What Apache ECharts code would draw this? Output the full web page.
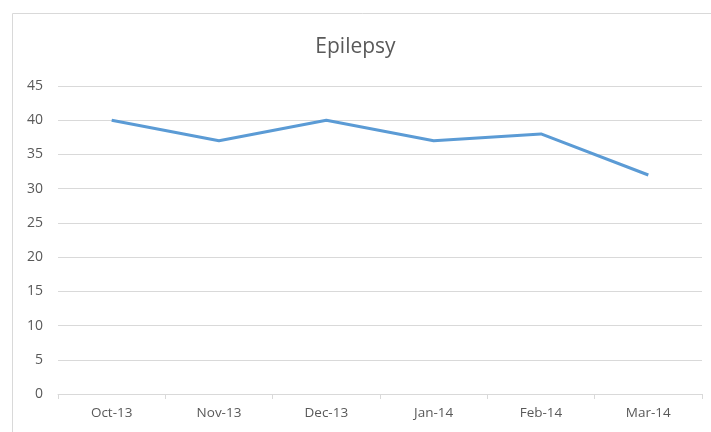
<!DOCTYPE html>
<html>
<head>
    <meta charset="utf-8">
    <title>Epilepsy</title>
    <script src="https://cdn.jsdelivr.net/npm/echarts@6/dist/echarts.min.js"></script>
    <style>
        html, body { margin: 0; padding: 0; background: #fff; }
        #chart { width: 711px; height: 432px; }
    </style>
</head>
<body>
<div id="chart"></div>
<script type="text/javascript">
    var months = ['Oct-13', 'Nov-13', 'Dec-13', 'Jan-14', 'Feb-14', 'Mar-14'];
    var epilepsy = [40, 37, 40, 37, 38, 32];

    var myChart = echarts.init(document.getElementById('chart'));
    myChart.setOption({
        animation: false,
        textStyle: { fontFamily: 'Open Sans' },
        // outer chart border
        graphic: [{
            type: 'rect',
            shape: { x: 12.5, y: 13.5, width: 720, height: 440 },
            style: { fill: 'none', stroke: '#d9d9d9', lineWidth: 1 }
        }],
        title: {
            text: 'Epilepsy',
            left: 'center',
            top: 32,
            textStyle: { fontSize: 21, fontWeight: 'normal', color: '#595959', fontFamily: 'Open Sans' }
        },
        grid: { left: 58, right: 9, top: 86, bottom: 38 },
        xAxis: {
            type: 'category',
            data: months,
            boundaryGap: true,
            axisLine: { lineStyle: { color: '#d9d9d9' } },
            axisTick: { show: true, length: 5, lineStyle: { color: '#d9d9d9' } },
            axisLabel: { color: '#595959', fontSize: 13.5, margin: 12 }
        },
        yAxis: {
            type: 'value',
            min: 0,
            max: 45,
            interval: 5,
            axisLine: { show: false },
            axisTick: { show: false },
            axisLabel: { color: '#595959', fontSize: 14, margin: 15 },
            splitLine: { lineStyle: { color: '#d9d9d9' } }
        },
        series: [{
            name: 'Epilepsy',
            type: 'line',
            data: epilepsy,
            symbol: 'none',
            lineStyle: { color: '#5b9bd5', width: 3 },
            itemStyle: { color: '#5b9bd5' }
        }]
    });
</script>
</body>
</html>
